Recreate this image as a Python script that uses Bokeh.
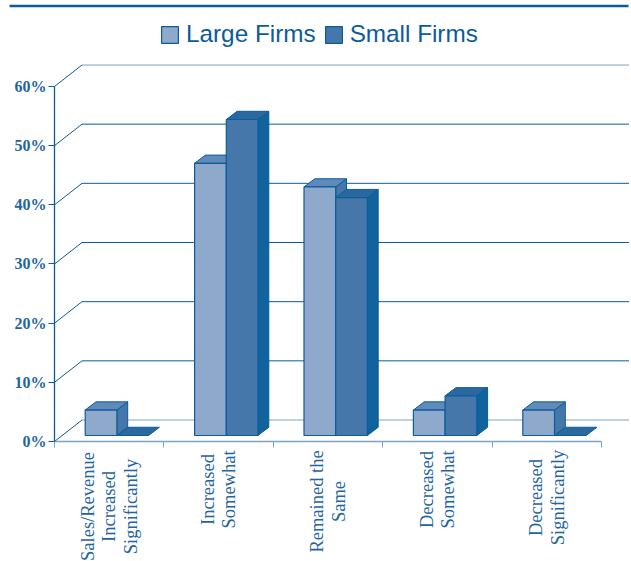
from math import pi
from bokeh.plotting import figure
from bokeh.models import Range1d, FixedTicker, Legend, LegendItem
from bokeh.core.properties import value
from bokeh.embed import file_html
from bokeh.resources import INLINE

categories = [
    ["Sales/Revenue", "Increased", "Significantly"],
    ["Increased", "Somewhat"],
    ["Remained the", "Same"],
    ["Decreased", "Somewhat"],
    ["Decreased", "Significantly"],
]
large_firms = [4.3, 46.0, 42.0, 4.3, 4.3]
small_firms = [0.0, 53.4, 40.2, 6.7, 0.0]
y_ticks = [0, 10, 20, 30, 40, 50, 60]

# pixel calibration of the drawing
PAGE_W, PAGE_H = 631, 561
SHIFT = 4
W, H = PAGE_W + SHIFT, PAGE_H + SHIFT
X0, Y0 = 54.0, 441.0
PX_CAT, PX_PCT = 109.4, 5.917
DX = 27.5 / PX_CAT
DY = 21.5 / PX_PCT
INSET = 0.28
BAR_W = 31.7 / PX_CAT
BAR_DX = 10.8 / PX_CAT
BAR_DY = 8.2 / PX_PCT
PITCH = 21.7
LABEL_DROP = [65, 48, 60, 48, 56]

DARK = "#0b5c99"
LIGHT_LINE = "#7ba4c4"
TEXT = "#1f659f"
L_FRONT, L_TOP, L_SIDE = "#8fa9cd", "#5f8aba", "#4677aa"
S_FRONT, S_TOP, S_SIDE = "#4677aa", "#2a699f", "#10639c"


def fx(px):
    return (px - X0) / PX_CAT


def fy(py):
    return (Y0 - py) / PX_PCT


p = figure(width=W, height=H, output_backend="svg", toolbar_location=None,
           x_range=Range1d(fx(-SHIFT), fx(PAGE_W)), y_range=Range1d(fy(PAGE_H), fy(-SHIFT)),
           min_border=0, outline_line_color=None, background_fill_color="white",
           margin=(-SHIFT, -SHIFT, -SHIFT, -SHIFT))
p.grid.visible = False

# axes
ya = p.yaxis[0]
ya.fixed_location = 0
ya.bounds = (0, 60)
ya.ticker = FixedTicker(ticks=y_ticks)
ya.major_label_overrides = {v: f"{v}%" for v in y_ticks}
ya.major_tick_in = 0
ya.major_tick_out = 6
ya.minor_tick_line_color = None
ya.axis_line_color = DARK
ya.major_tick_line_color = DARK
ya.axis_line_width = 1.3
ya.major_label_standoff = 2
ya.major_label_text_font = "Liberation Serif"
ya.major_label_text_font_style = "bold"
ya.major_label_text_font_size = "16px"
ya.major_label_text_color = TEXT

xa = p.xaxis[0]
xa.fixed_location = 0
xa.bounds = (0, 5)
xa.ticker = FixedTicker(ticks=[0, 1, 2, 3, 4, 5])
xa.major_label_text_font_size = "0px"
xa.major_label_text_color = None
xa.major_tick_in = 0
xa.major_tick_out = 6
xa.minor_tick_line_color = None
xa.axis_line_color = LIGHT_LINE
xa.major_tick_line_color = LIGHT_LINE
xa.axis_line_width = 1.5

# back wall
for v in y_ticks:
    color = LIGHT_LINE if v in (0, 60) else DARK
    p.line([0, DX], [v, v + DY], line_color=DARK, line_width=1)
    p.line([DX, 5 + DX], [v + DY, v + DY], line_color=color, line_width=1.2 if v in (0, 60) else 1)

# bars
base = INSET * DY
lefts = [i + 0.5 + INSET * DX - BAR_W for i in range(5)]
mids = [l + BAR_W for l in lefts]
rights = [m + BAR_W for m in mids]


def faces(left, right, top):
    tface = ([left, left + BAR_DX, right + BAR_DX, right],
             [base + top, base + top + BAR_DY, base + top + BAR_DY, base + top])
    sface = ([right, right + BAR_DX, right + BAR_DX, right],
             [base, base + BAR_DY, base + top + BAR_DY, base + top])
    return tface, sface


large_r = None
small_r = None
for i in range(5):
    for left, right, v, cf, ct, cs, name in (
        (lefts[i], mids[i], large_firms[i], L_FRONT, L_TOP, L_SIDE, "L"),
        (mids[i], rights[i], small_firms[i], S_FRONT, S_TOP, S_SIDE, "S"),
    ):
        t, s = faces(left, right, v)
        if v > 0:
            p.patch(s[0], s[1], fill_color=cs, line_color=DARK, line_width=1)
        p.patch(t[0], t[1], fill_color=ct, line_color=DARK, line_width=1)
        r = p.quad(left=[left], right=[right], bottom=[base], top=[base + v],
                   fill_color=cf, line_color=DARK, line_width=1.2)
        if name == "L" and large_r is None:
            large_r = r
        if name == "S" and v > 0 and small_r is None:
            small_r = r

# category labels
tx, ty, tt, xo, yo = [], [], [], [], []
for i, lines in enumerate(categories):
    n = len(lines)
    for j, line in enumerate(lines):
        tx.append(i + 0.5)
        ty.append(0)
        tt.append(line)
        xo.append((j - (n - 1) / 2) * PITCH)
        yo.append(LABEL_DROP[i])
p.text(x=tx, y=ty, text=tt, x_offset=xo, y_offset=yo, angle=pi / 2,
       text_align="center", text_baseline="middle",
       text_font=value("Liberation Serif"), text_font_size="18.5px", text_color=TEXT)

# top rule
p.line([fx(9), fx(628)], [fy(5.5), fy(5.5)], line_color=DARK, line_width=2.6)

legend = Legend(items=[LegendItem(label="Large Firms", renderers=[large_r]),
                       LegendItem(label="Small Firms", renderers=[small_r])],
                orientation="horizontal", location=(163, 513),
                border_line_color=None, background_fill_alpha=0,
                label_text_font="Liberation Sans", label_text_font_size="24.3px",
                label_text_color=DARK, glyph_width=21, glyph_height=21,
                label_standoff=6, spacing=7, padding=8, margin=0)
p.add_layout(legend, "center")

open("out.html", "w").write(file_html(p, INLINE))
